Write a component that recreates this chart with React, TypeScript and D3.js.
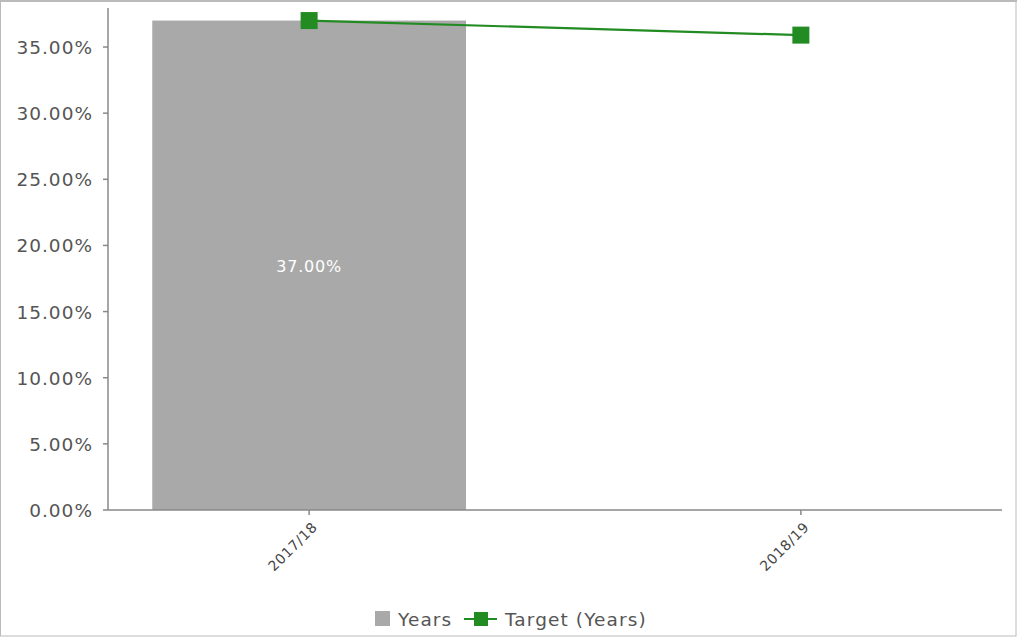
import React from "react";
import * as d3 from "d3";

const categories = ["2017/18", "2018/19"];
const barValues: (number | null)[] = [37.0, null];
const targetValues = [37.0, 35.9];
const yTicks = [0, 5, 10, 15, 20, 25, 30, 35];
const legendLabels = ["Years", "Target (Years)"];

const W = 1017;
const H = 637;
const left = 108;
const right = 1002;
const top = 8;
const bottom = 510;

export default function App() {
  const y = d3.scaleLinear().domain([0, 37.95]).range([bottom, top]);
  const x = d3.scalePoint<string>().domain(categories).range([left, right]).padding(0.409);
  const step = x.step();
  const bw = step * 0.638;
  const line = d3
    .line<number>()
    .x((_, i) => x(categories[i])!)
    .y((d) => y(d));
  const font = "Tahoma, 'DejaVu Sans', Verdana, sans-serif";
  const axisColor = "#888";
  const green = "#228B22";
  const ms = 17;
  return (
    <svg width={W} height={H} style={{ position: "absolute", left: 0, top: 0 }} fontFamily={font}>
      <rect x={0} y={0} width={W} height={H} fill="#fff" />
      <rect x={0.5} y={0.5} width={W - 1.5} height={H - 1.5} fill="none" stroke="#bbb" strokeWidth={1} />
      <line x1={0} x2={W} y1={1} y2={1} stroke="#bbb" strokeWidth={2} />
      {/* bars */}
      {barValues.map((v, i) =>
        v == null ? null : (
          <g key={i}>
            <rect x={x(categories[i])! - bw / 2} y={y(v)} width={bw} height={bottom - y(v)} fill="#a9a9a9" />
            <text
              x={x(categories[i])!}
              y={(y(v) + bottom) / 2 + 7}
              textAnchor="middle"
              fill="#fff"
              fontSize={16}
              letterSpacing={0.8}
            >
              {v.toFixed(2)}%
            </text>
          </g>
        )
      )}
      {/* y axis */}
      <line x1={left} x2={left} y1={top} y2={bottom} stroke={axisColor} strokeWidth={1.5} />
      {yTicks.map((t) => (
        <g key={t}>
          <line x1={left - 5} x2={left} y1={y(t)} y2={y(t)} stroke={axisColor} strokeWidth={1.5} />
          <text x={93} y={y(t) + 7} textAnchor="end" fill="#555" fontSize={18.5} letterSpacing={1}>
            {t.toFixed(2)}%
          </text>
        </g>
      ))}
      {/* x axis */}
      <line x1={left} x2={right} y1={bottom} y2={bottom} stroke={axisColor} strokeWidth={1.5} />
      {categories.map((c) => (
        <g key={c}>
          <line x1={x(c)!} x2={x(c)!} y1={bottom} y2={bottom + 5} stroke={axisColor} strokeWidth={1.5} />
          <text
            transform={`translate(${x(c)! + 9},${bottom + 18}) rotate(-45)`}
            textAnchor="end"
            fill="#444"
            fontSize={14}
            letterSpacing={0.6}
          >
            {c}
          </text>
        </g>
      ))}
      {/* target line */}
      <path d={line(targetValues) ?? ""} fill="none" stroke={green} strokeWidth={2.2} />
      {targetValues.map((v, i) => (
        <rect key={i} x={x(categories[i])! - ms / 2} y={y(v) - ms / 2} width={ms} height={ms} fill={green} />
      ))}
      {/* legend */}
      <rect x={375} y={611} width={15} height={15} fill="#a9a9a9" />
      <text x={398} y={626} fill="#555" fontSize={18.5} letterSpacing={1.1}>
        {legendLabels[0]}
      </text>
      <line x1={464} x2={497} y1={619} y2={619} stroke={green} strokeWidth={2} />
      <rect x={474} y={612} width={14} height={14} fill={green} />
      <text x={505} y={626} fill="#555" fontSize={18.5} letterSpacing={1.1}>
        {legendLabels[1]}
      </text>
    </svg>
  );
}
